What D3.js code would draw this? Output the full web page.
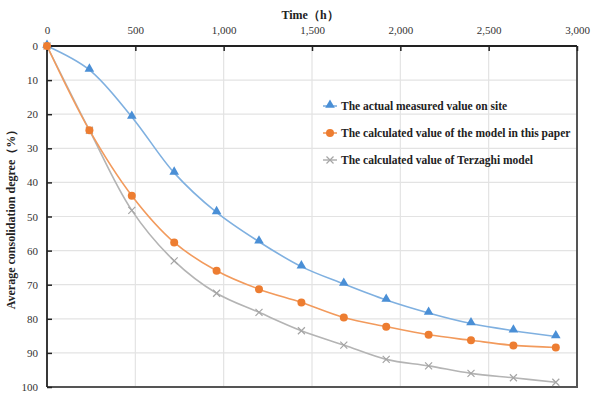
<!DOCTYPE html>
<html>
<head>
<meta charset="utf-8">
<script src="https://cdn.jsdelivr.net/npm/d3@7"></script>
<style>
  body { margin: 0; background: #fff; }
  svg { display: block; font-family: "Liberation Serif", "Times New Roman", serif; }
</style>
</head>
<body>
<svg id="chart" width="605" height="417"></svg>
<script>
// time in hours, every 10 days
const hours = [0, 240, 480, 720, 960, 1200, 1440, 1680, 1920, 2160, 2400, 2640, 2880];
const measured = [0, 7.0, 20.8, 37.2, 48.8, 57.4, 64.7, 69.8, 74.5, 78.3, 81.4, 83.5, 85.2];
const modelPaper = [0, 24.7, 43.9, 57.6, 65.9, 71.3, 75.2, 79.6, 82.3, 84.7, 86.3, 87.8, 88.4];
const terzaghi = [0, 24.7, 48.2, 63.0, 72.5, 78.1, 83.5, 87.7, 91.9, 93.8, 96.0, 97.3, 98.6];
const xTicks = [0, 500, 1000, 1500, 2000, 2500, 3000];
const yTicks = [0, 10, 20, 30, 40, 50, 60, 70, 80, 90, 100];
const seriesNames = [
    "The actual measured value on site",
    "The calculated value of the model in this paper",
    "The calculated value of Terzaghi model"
];

const svg = d3.select("#chart");
const margin = { top: 46, left: 47, right: 28, bottom: 30 };
const width = 605 - margin.left - margin.right;
const height = 417 - margin.top - margin.bottom;

const x = d3.scaleLinear().domain([0, 3000]).range([0, width]);
const y = d3.scaleLinear().domain([0, 100]).range([0, height]);

const g = svg.append("g").attr("transform", `translate(${margin.left},${margin.top})`);

// gridlines
g.append("g").selectAll("line")
    .data(yTicks.slice(1, -1))
    .join("line")
    .attr("x1", 0).attr("x2", width)
    .attr("y1", d => y(d)).attr("y2", d => y(d))
    .style("stroke", "#e3e3e3").style("stroke-width", 1.2);
g.append("g").selectAll("line")
    .data(xTicks.slice(1, -1))
    .join("line")
    .attr("y1", 0).attr("y2", height)
    .attr("x1", d => x(d)).attr("x2", d => x(d))
    .style("stroke", "#e3e3e3").style("stroke-width", 1.2);

// frame (right + bottom)
g.append("path")
    .attr("d", `M${width},0V${height}H0`)
    .style("fill", "none").style("stroke", "#555").style("stroke-width", 2);

// axes
const xAxis = g.append("g")
    .call(d3.axisTop(x).tickValues(xTicks).tickFormat(d3.format(",")).tickSizeInner(-5).tickSizeOuter(0).tickPadding(12));
const yAxis = g.append("g")
    .call(d3.axisLeft(y).tickValues(yTicks).tickSizeInner(-5).tickSizeOuter(0).tickPadding(9));

[xAxis, yAxis].forEach(a => {
    a.select(".domain").style("stroke", "#222").style("stroke-width", 1.8);
    a.selectAll(".tick line").style("stroke", "#222").style("stroke-width", 1.5);
    a.selectAll("text").style("font-family", "Liberation Serif").style("font-size", "11px").style("fill", "#333");
});
xAxis.select(".domain").attr("d", `M0,0H${width}`);
yAxis.select(".domain").attr("d", `M0,0V${height}`);

// axis titles
svg.append("text")
    .attr("x", 310).attr("y", 19)
    .attr("text-anchor", "middle")
    .style("font-size", "12px").style("font-weight", "bold").style("fill", "#222")
    .text("Time（h）");
svg.append("text")
    .attr("transform", `translate(15,${margin.top + height / 2}) rotate(-90)`)
    .attr("text-anchor", "middle")
    .style("font-size", "12px").style("font-weight", "bold").style("fill", "#222")
    .text("Average consolidation degree（%）");

const line = d3.line()
    .x(d => x(d[0]))
    .y(d => y(d[1]))
    .curve(d3.curveCatmullRom.alpha(0.5));

const series = [
    { name: seriesNames[2], values: terzaghi, line: "#b4b4b4", fill: "#a5a5a5", marker: "cross" },
    { name: seriesNames[0], values: measured, line: "#7fb0e0", fill: "#4a8fd6", marker: "triangle" },
    { name: seriesNames[1], values: modelPaper, line: "#f29a5c", fill: "#ed7d31", marker: "circle" }
];

function drawMarker(sel, s) {
    if (s.marker === "triangle") {
        sel.append("path").attr("d", d3.symbol(d3.symbolTriangle, 40)())
            .attr("transform", "translate(0,-1)")
            .style("fill", s.fill);
    } else if (s.marker === "circle") {
        sel.append("circle").attr("r", 4).style("fill", s.fill);
    } else {
        sel.append("path").attr("d", "M-3.5,-3.5L3.5,3.5M-3.5,3.5L3.5,-3.5")
            .style("stroke", s.fill).style("stroke-width", 1.2).style("fill", "none");
    }
}

series.forEach(s => {
    const pts = hours.map((h, i) => [h, s.values[i]]);
    g.append("path")
        .datum(pts)
        .attr("d", line)
        .style("fill", "none")
        .style("stroke", s.line)
        .style("stroke-width", 1.6);
    g.append("g").selectAll("g")
        .data(pts)
        .join("g")
        .attr("transform", d => `translate(${x(d[0])},${y(d[1])})`)
        .each(function () { drawMarker(d3.select(this), s); });
});

// legend
const legendItems = [series[1], series[2], series[0]];
const legend = svg.append("g").attr("transform", "translate(323,106)");
legendItems.forEach((s, i) => {
    const row = legend.append("g").attr("transform", `translate(0,${i * 27})`);
    row.append("line").attr("x1", 0).attr("x2", 14)
        .style("stroke", s.line).style("stroke-width", 1.6);
    const m = row.append("g").attr("transform", "translate(7,0)");
    drawMarker(m, s);
    row.append("text")
        .attr("x", 18).attr("y", 4)
        .style("font-size", "11.5px").style("font-weight", "bold").style("fill", "#222")
        .text(s.name);
});
</script>
</body>
</html>
